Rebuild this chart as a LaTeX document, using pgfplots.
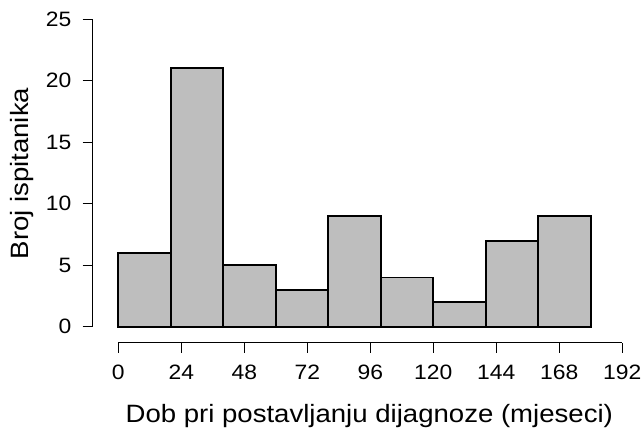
\documentclass[border=0pt]{standalone}
\usepackage{fontspec}
\setmainfont{Liberation Sans}[FakeStretch=1.1]
\usepackage{pgfplots}
\pgfplotsset{compat=1.18}
\definecolor{histgray}{HTML}{BEBEBE}
\newcommand{\tickfont}{\fontsize{15.6}{18}\selectfont}
\newcommand{\labfont}{\fontsize{18.8}{22}\selectfont}
\begin{document}
\begin{tikzpicture}
\useasboundingbox (-88.7pt,-77.5pt) rectangle (394.3pt,245.0pt);
\begin{axis}[
  anchor=origin, at={(0pt,0pt)},
  x=1.96875pt, y=9.225pt,
  xmin=-9.75, xmax=201, ymin=-1.3, ymax=26.2,
  axis x line*=bottom, axis y line*=left,
  axis line style={draw=none},
  xtick={0,24,...,192}, ytick={0,5,...,25},
  minor tick num=0,
  tick align=outside, major tick length=7.5pt,
  tick style={black, line width=0.8pt},
  /pgf/number format/assume math mode=true,
  tick label style={font=\tickfont, inner sep=0pt},
  xticklabel style={anchor=base, yshift=-19.95pt},
  yticklabel style={anchor=east, xshift=-8.25pt},
  xlabel={Dob pri postavljanju dijagnoze (mjeseci)},
  ylabel={Broj ispitanika},
  xlabel style={at={([yshift=-59.7pt]axis description cs:0.5,0)}, anchor=base, inner sep=0pt, font=\labfont},
  ylabel style={at={([xshift=-48.3pt]axis description cs:0,0.5)}, anchor=base, rotate=0, inner sep=0pt, font=\labfont},
  clip=false,
]
\addplot[ybar interval, fill=histgray, draw=black, line width=1.4pt]
  coordinates {(0,6) (20,21) (40,5) (60,3) (80,9) (100,4) (120,2) (140,7) (160,9) (180,9)};
\draw[line width=0.8pt] (axis cs:0,-1.3) -- (axis cs:192,-1.3);
\draw[line width=0.8pt] (axis cs:-9.75,0) -- (axis cs:-9.75,25);
\end{axis}
\end{tikzpicture}
\end{document}
